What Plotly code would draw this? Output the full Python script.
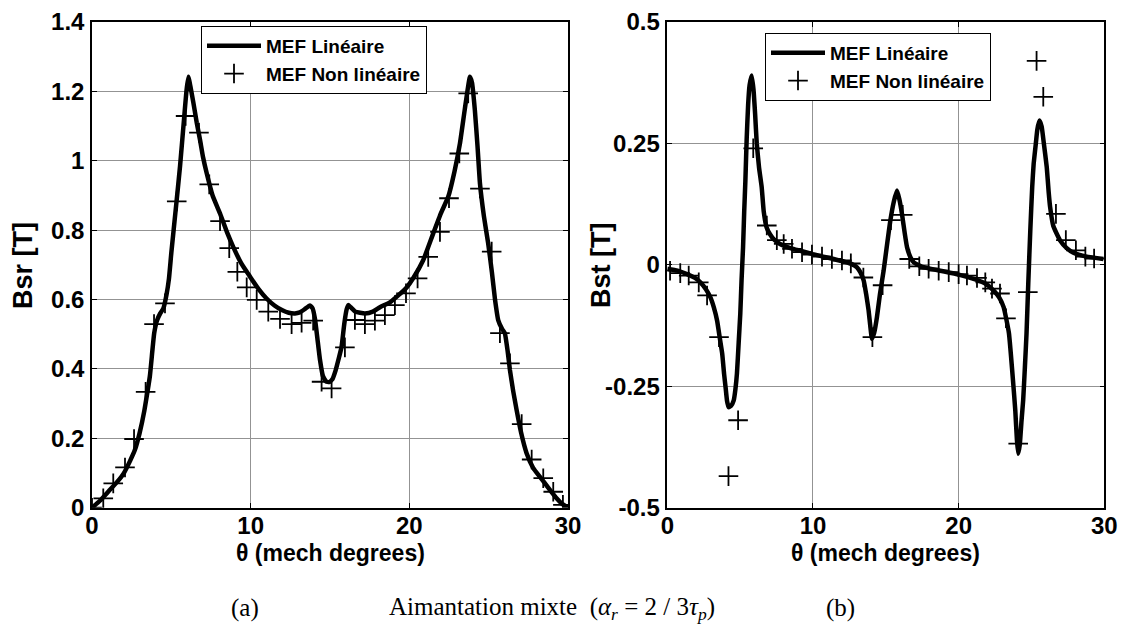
import plotly.graph_objects as go

# ---------------- data: left panel (Bsr) ----------------
theta_lin_a = [0.0, 0.5, 1.1, 1.6, 2.0, 2.4, 2.7, 3.0, 3.3, 3.5, 3.65, 3.8, 3.92, 4.1, 4.3, 4.5, 4.7, 4.85,
               5.0, 5.3, 5.55, 5.8, 5.95, 6.07, 6.2, 6.38, 6.6, 6.81, 7.0, 7.23, 7.6, 8.07, 8.5, 8.9, 9.4,
               9.96, 10.5, 11.0, 11.5, 12.0, 12.4, 12.79, 13.1, 13.4, 13.73, 13.9, 14.05, 14.2, 14.37,
               14.55, 14.75, 14.95, 15.15, 15.35, 15.55, 15.73, 15.9, 16.05, 16.15, 16.3, 16.6, 17.2,
               17.7, 18.15, 18.78, 19.3, 19.83, 20.25, 20.88, 21.5, 22.0, 22.45, 22.85, 23.19, 23.5,
               23.82, 23.95, 24.13, 24.3, 24.45, 24.7, 24.97, 25.2, 25.4, 25.6, 25.85, 26.02, 26.2,
               26.34, 26.55, 26.76, 27.05, 27.39, 27.8, 28.23, 28.75, 29.28, 29.6, 30.0]
bsr_lin = [0.000, 0.020, 0.050, 0.075, 0.099, 0.135, 0.166, 0.215, 0.280, 0.335, 0.380, 0.450, 0.503, 0.540,
           0.560, 0.575, 0.615, 0.660, 0.735, 0.870, 0.985, 1.120, 1.200, 1.242, 1.215, 1.170, 1.110,
           1.060, 1.010, 0.964, 0.900, 0.848, 0.795, 0.752, 0.705, 0.666, 0.630, 0.603, 0.583, 0.569,
           0.562, 0.560, 0.563, 0.572, 0.583, 0.575, 0.545, 0.490, 0.426, 0.380, 0.364, 0.362, 0.370,
           0.395, 0.430, 0.464, 0.530, 0.572, 0.584, 0.578, 0.565, 0.560, 0.565, 0.578, 0.592, 0.612,
           0.635, 0.662, 0.714, 0.790, 0.850, 0.896, 0.970, 1.050, 1.150, 1.242, 1.225, 1.146, 1.040,
           0.935, 0.840, 0.762, 0.680, 0.600, 0.541, 0.515, 0.503, 0.450, 0.397, 0.335, 0.282, 0.215,
           0.157, 0.115, 0.089, 0.058, 0.027, 0.012, 0.000]

theta_nl_a = [0.0, 0.71, 1.34, 2.08, 2.65, 3.38, 3.91, 4.60, 5.34, 5.90, 6.74, 7.39, 8.07, 8.65, 9.16,
              9.75, 10.38, 11.11, 11.85, 12.58, 13.21, 13.94, 14.47, 15.10, 15.94, 16.57, 17.20, 17.83,
              18.46, 19.09, 19.79, 20.52, 21.19, 21.93, 22.50, 23.15, 23.71, 24.45, 25.19, 25.71, 26.34,
              27.08, 27.71, 28.44, 29.07, 29.68]
bsr_nl = [0.0, 0.027, 0.070, 0.116, 0.198, 0.334, 0.529, 0.589, 0.883, 1.129, 1.081, 0.932, 0.826, 0.748,
          0.680, 0.635, 0.599, 0.565, 0.544, 0.529, 0.533, 0.539, 0.363, 0.344, 0.462, 0.541, 0.529,
          0.539, 0.555, 0.584, 0.618, 0.661, 0.723, 0.795, 0.892, 1.021, 1.194, 0.920, 0.738, 0.503,
          0.416, 0.241, 0.139, 0.085, 0.046, 0.008]

# ---------------- data: right panel (Bst) ----------------
theta_lin_b = [0.0, 0.7, 1.35, 1.9, 2.27, 2.65, 2.96, 3.2, 3.42, 3.6, 3.77, 3.9, 4.0, 4.1, 4.21, 4.38, 4.56,
               4.68, 4.78, 4.9, 5.01, 5.1, 5.2, 5.28, 5.36, 5.45, 5.55, 5.65, 5.79, 5.92, 6.03, 6.14, 6.3,
               6.48, 6.62, 6.82, 7.05, 7.3, 7.74, 8.5, 9.13, 10.0, 10.7, 11.42, 12.2, 12.7, 13.02, 13.25,
               13.48, 13.65, 13.82, 13.95, 14.05, 14.2, 14.39, 14.6, 14.85, 15.1, 15.31, 15.55, 15.77,
               15.93, 16.11, 16.3, 16.46, 16.7, 16.92, 17.5, 18.74, 20.0, 21.03, 21.8, 22.41, 22.8, 23.09,
               23.45, 23.75, 23.89, 24.0, 24.09, 24.2, 24.32, 24.43, 24.55, 24.66, 24.78, 24.92, 25.05,
               25.15, 25.3, 25.4, 25.55, 25.7, 25.85, 26.05, 26.18, 26.28, 26.5, 26.97, 27.4, 27.88, 28.8,
               29.94]
bst_lin = [-0.008, -0.012, -0.019, -0.027, -0.036, -0.050, -0.067, -0.088, -0.115, -0.150, -0.183, -0.225,
           -0.252, -0.280, -0.293, -0.290, -0.279, -0.255, -0.224, -0.160, -0.101, -0.030, 0.036, 0.110,
           0.173, 0.260, 0.330, 0.370, 0.390, 0.360, 0.310, 0.250, 0.200, 0.160, 0.110, 0.077, 0.063,
           0.053, 0.043, 0.034, 0.029, 0.022, 0.017, 0.012, 0.006, 0.001, -0.005, -0.015, -0.032, -0.060,
           -0.094, -0.130, -0.152, -0.140, -0.108, -0.060, -0.012, 0.045, 0.091, 0.130, 0.153, 0.135,
           0.105, 0.065, 0.036, 0.015, 0.005, -0.004, -0.012, -0.020, -0.029, -0.038, -0.053, -0.068,
           -0.087, -0.140, -0.245, -0.300, -0.360, -0.389, -0.370, -0.320, -0.279, -0.210, -0.142, -0.039,
           0.071, 0.160, 0.208, 0.250, 0.278, 0.297, 0.285, 0.250, 0.201, 0.150, 0.119, 0.080, 0.050,
           0.035, 0.025, 0.017, 0.012]

theta_nl_b = [0.19, 0.89, 1.47, 2.16, 2.73, 3.55, 4.20, 4.86, 5.90, 6.83, 7.52, 7.99, 8.56, 9.25, 9.93,
              10.62, 11.30, 11.99, 12.60, 13.46, 14.08, 14.78, 15.35, 16.16, 16.61, 17.30, 17.94, 18.63,
              19.32, 20.00, 20.57, 21.26, 21.83, 22.29, 22.84, 23.25, 24.09, 24.75, 25.35, 25.81, 26.68,
              27.36, 28.05, 28.70, 29.30]
bst_nl = [-0.012, -0.017, -0.022, -0.036, -0.063, -0.149, -0.435, -0.320, 0.240, 0.081, 0.051, 0.043,
          0.033, 0.026, 0.021, 0.017, 0.012, 0.009, 0.003, -0.026, -0.149, -0.042, 0.092, 0.103, 0.012,
          -0.003, -0.008, -0.012, -0.015, -0.019, -0.022, -0.027, -0.036, -0.049, -0.059, -0.110, -0.368,
          -0.056, 0.420, 0.346, 0.105, 0.051, 0.030, 0.017, 0.013]

x_ticks = [0, 10, 20, 30]
y_ticks_a = [0, 0.2, 0.4, 0.6, 0.8, 1.0, 1.2, 1.4]
y_ticklabels_a = ["0", "0.2", "0.4", "0.6", "0.8", "1", "1.2", "1.4"]
y_ticks_b = [-0.5, -0.25, 0, 0.25, 0.5]
y_ticklabels_b = ["-0.5", "-0.25", "0", "0.25", "0.5"]

name_lin = "MEF Linéaire"
name_nl = "MEF Non linéaire"

# ---------------- figure ----------------
W, H = 1122, 634
FONT = "Liberation Sans, Arial, sans-serif"

fig = go.Figure()

line_style = dict(color="black", width=4.5, shape="spline", smoothing=0.4)
marker_style = dict(symbol="cross-thin", size=14, color="black", line=dict(color="black", width=1.8))

fig.add_trace(go.Scatter(x=theta_lin_a, y=bsr_lin, mode="lines", name=name_lin, line=line_style,
                         xaxis="x", yaxis="y", legend="legend"))
fig.add_trace(go.Scatter(x=theta_nl_a, y=bsr_nl, mode="markers", name=name_nl, marker=marker_style,
                         xaxis="x", yaxis="y", legend="legend"))
fig.add_trace(go.Scatter(x=theta_lin_b, y=bst_lin, mode="lines", name=name_lin, line=line_style,
                         xaxis="x2", yaxis="y2", legend="legend2"))
fig.add_trace(go.Scatter(x=theta_nl_b, y=bst_nl, mode="markers", name=name_nl, marker=marker_style,
                         xaxis="x2", yaxis="y2", legend="legend2"))

tickfont = dict(family=FONT, size=24, color="black", weight="bold")
axis_common = dict(showline=True, linecolor="black", linewidth=1.5, mirror="ticks",
                   ticks="inside", ticklen=5, tickcolor="black", showgrid=True,
                   gridcolor="#939393", gridwidth=1, zeroline=False, tickfont=tickfont,
                   automargin=False)
xaxis_common = dict(axis_common, ticklabelstandoff=-4)
yaxis_common = dict(axis_common, ticklabelstandoff=1)

legend_font = dict(family=FONT, size=19, color="black", weight="bold")

yb, yt = 1 - 507.7 / H, 1 - 22 / H
fig.update_layout(
    template="none",
    width=W, height=H, margin=dict(l=0, r=0, t=0, b=0, autoexpand=False),
    paper_bgcolor="white", plot_bgcolor="white",
    xaxis=dict(domain=[92 / W, 568 / W], range=[0, 30], tickvals=x_ticks, anchor="y", **xaxis_common),
    yaxis=dict(domain=[yb, yt], range=[0, 1.4], tickvals=y_ticks_a, ticktext=y_ticklabels_a,
               anchor="x", **yaxis_common),
    xaxis2=dict(domain=[667.3 / W, 1104.3 / W], range=[0, 30], tickvals=x_ticks, anchor="y2", **xaxis_common),
    yaxis2=dict(domain=[yb, yt], range=[-0.5, 0.5], tickvals=y_ticks_b, ticktext=y_ticklabels_b,
                anchor="x2", **yaxis_common),
    legend=dict(x=201 / W, y=1 - 26 / H, xanchor="left", yanchor="top", bgcolor="white",
                bordercolor="black", borderwidth=1, tracegroupgap=0, itemwidth=54, font=legend_font),
    legend2=dict(x=765 / W, y=1 - 33 / H, xanchor="left", yanchor="top", bgcolor="white",
                 bordercolor="black", borderwidth=1, tracegroupgap=0, itemwidth=54, font=legend_font),
    showlegend=True,
)

title_font = dict(family=FONT, size=27, color="black", weight="bold")
xt_font = dict(family=FONT, size=23, color="black", weight="bold")
cap_font = dict(family="Liberation Serif, Times New Roman, serif", size=25, color="black")

ann = [
    dict(text="Bsr [T]", x=23 / W, y=1 - 266 / H, textangle=-90, font=title_font),
    dict(text="Bst [T]", x=601 / W, y=1 - 266 / H, textangle=-90, font=title_font),
    dict(text="θ (mech degrees)", x=330 / W, y=1 - 553 / H, font=xt_font),
    dict(text="θ (mech degrees)", x=885 / W, y=1 - 553 / H, font=xt_font),
    dict(text="(a)", x=245 / W, y=1 - 608 / H, font=cap_font),
    dict(text="(b)", x=840 / W, y=1 - 608 / H, font=cap_font),
    dict(text="Aimantation mixte  (<i>α</i><sub><i>r</i></sub> = 2 / 3<i>τ</i><sub><i>p</i></sub>)",
         x=387 / W, y=1 - 608 / H, xanchor="left", font=cap_font),
]
for a in ann:
    a.setdefault("xanchor", "center")
    fig.add_annotation(xref="paper", yref="paper", showarrow=False, yanchor="middle", **a)

fig.write_html("out.html", config={"displayModeBar": False},
               post_script="document.body.style.margin='0px'; document.body.style.overflow='hidden';")
